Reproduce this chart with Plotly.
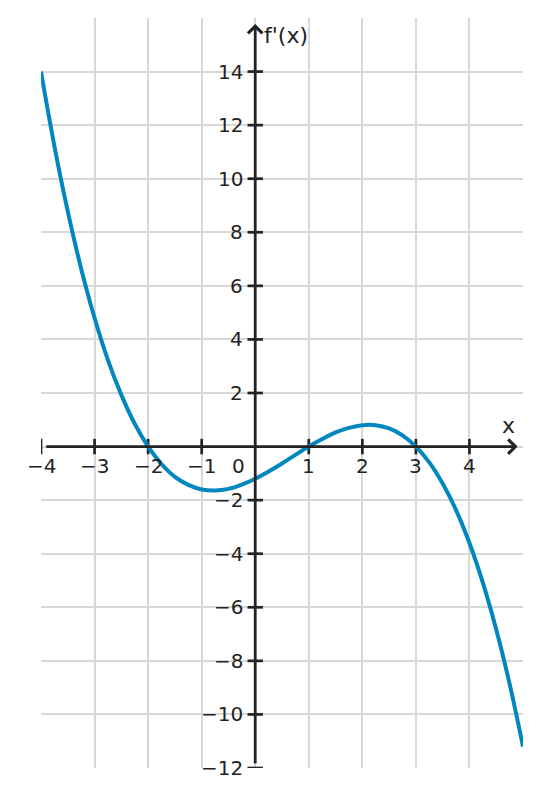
import plotly.graph_objects as go

# curve values
x_vals = [-4, -3.75, -3.5, -3.25, -3, -2.75, -2.5, -2.25, -2, -1.75, -1.5, -1.25, -1, -0.75,
          -0.5, -0.25, 0, 0.25, 0.5, 0.75, 1, 1.25, 1.5, 1.75, 2, 2.25, 2.5, 2.75, 3, 3.25,
          3.5, 3.75, 4, 4.25, 4.5, 4.75, 5]
y_vals = [14.0, 11.22, 8.78, 6.64, 4.8, 3.23, 1.93, 0.85, 0.0, -0.65, -1.13, -1.43, -1.6, -1.64,
          -1.58, -1.42, -1.2, -0.93, -0.63, -0.31, 0.0, 0.28, 0.53, 0.7, 0.8, 0.8, 0.68, 0.42,
          0.0, -0.59, -1.38, -2.37, -3.6, -5.08, -6.83, -8.86, -11.2]

x_ticks = [-4, -3, -2, -1, 1, 2, 3, 4]
y_ticks = [-12, -10, -8, -6, -4, -2, 2, 4, 6, 8, 10, 12, 14]
x_grid = [-4, -3, -2, -1, 0, 1, 2, 3, 4]
y_grid = [-12, -10, -8, -6, -4, -2, 0, 2, 4, 6, 8, 10, 12, 14]

axis_col = '#232323'
font = 'DejaVu Sans'

def fmt(v):
    return str(v).replace('-', '\u2212')

fig = go.Figure()

# tick marks on the axes
fig.add_trace(go.Scatter(x=x_ticks, y=[0] * len(x_ticks), mode='markers',
                         marker=dict(symbol='line-ns', size=11, line=dict(width=2.7, color=axis_col)),
                         hoverinfo='skip'))
fig.add_trace(go.Scatter(x=[0] * len(y_ticks), y=y_ticks, mode='markers',
                         marker=dict(symbol='line-ew', size=11, line=dict(width=2.7, color=axis_col)),
                         hoverinfo='skip'))

# the curve
fig.add_trace(go.Scatter(x=x_vals, y=y_vals, mode='lines',
                         line=dict(color='#0087be', width=4, shape='spline'),
                         hoverinfo='skip'))

anns = []
# axis lines with arrows
anns.append(dict(x=4.9, y=0, ax=-3.93, ay=0, xref='x', yref='y', axref='x', ayref='y',
                 showarrow=True, arrowhead=4, arrowsize=1.0, arrowwidth=2.8,
                 arrowcolor=axis_col, text=''))
anns.append(dict(x=0, y=15.78, ax=0, ay=-11.89, xref='x', yref='y', axref='x', ayref='y',
                 showarrow=True, arrowhead=4, arrowsize=1.0, arrowwidth=2.8,
                 arrowcolor=axis_col, text=''))

for v in x_ticks:
    anns.append(dict(x=v, y=0, text=fmt(v), showarrow=False, yshift=-19,
                     font=dict(size=20, color=axis_col, family=font)))
for v in y_ticks:
    anns.append(dict(x=0, y=v, text=fmt(v), showarrow=False, xanchor='right', xshift=-10,
                     font=dict(size=20, color=axis_col, family=font)))
anns.append(dict(x=0, y=0, text='0', showarrow=False, xshift=-17, yshift=-19,
                 font=dict(size=20, color=axis_col, family=font)))

# axis names
anns.append(dict(x=4.73, y=0, text='x', showarrow=False, yshift=21,
                 font=dict(size=22, color=axis_col, family=font)))
anns.append(dict(x=0, y=15.33, text="f'(x)", showarrow=False, xanchor='left', xshift=7,
                 font=dict(size=22, color=axis_col, family=font)))

# page body has an 8px margin, so the plot margins are reduced by that
fig.update_layout(
    width=542, height=797,
    margin=dict(l=33, r=27, t=10, b=37),
    paper_bgcolor='white', plot_bgcolor='white',
    showlegend=False,
    annotations=anns,
    xaxis=dict(range=[-4, 5], tickvals=x_grid, showticklabels=False, showgrid=True,
               gridcolor='#d8d8d8', gridwidth=2, zeroline=False, showline=False, fixedrange=True),
    yaxis=dict(range=[-12, 16], tickvals=y_grid, showticklabels=False, showgrid=True,
               gridcolor='#d8d8d8', gridwidth=2, zeroline=False, showline=False, fixedrange=True),
)

fig.write_html("out.html")
